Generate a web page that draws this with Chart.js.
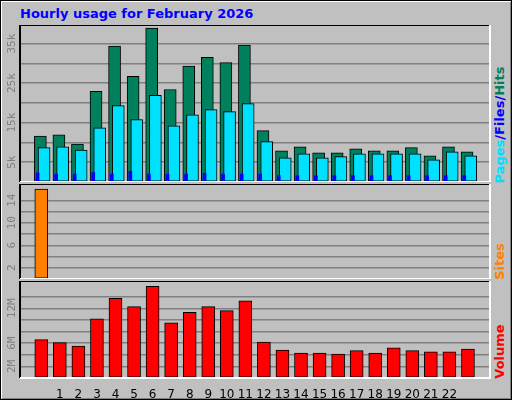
<!DOCTYPE html><html><head><meta charset="utf-8">
<script src="https://cdn.jsdelivr.net/npm/chart.js@4/dist/chart.umd.min.js"></script>
<style>
body{margin:0;width:512px;height:400px;background:#c0c0c0;position:relative;overflow:hidden;font-family:"DejaVu Sans",sans-serif}
#frame{position:absolute;left:0;top:0;width:510px;height:398px;border:1px solid #000;box-shadow:inset 1px 1px 0 #fff,inset -1px -1px 0 #808080}
canvas{position:absolute;left:0}
.t{position:absolute;font-weight:bold;font-size:13px}
.r{position:absolute;font-weight:bold;font-size:13px;transform:rotate(-90deg);transform-origin:center;white-space:nowrap}
</style></head><body><div id="frame"></div>
<div class="t" style="left:20px;top:6px;color:#0000ff">Hourly usage for February 2026</div>
<div class="r" style="left:447px;top:124px;width:104px;text-align:center"><span style="color:#00e0ff">Pages</span><span style="color:#0000ff">/Files/</span><span style="color:#00805c">Hits</span></div>
<div class="r" style="left:474px;top:254px;width:50px;text-align:center;color:#ff8000">Sites</div>
<div class="r" style="left:469px;top:344px;width:60px;text-align:center;color:#ff0000">Volume</div>
<div style="position:absolute;left:0;top:25px;width:512px;height:157px"><canvas id="c1"></canvas></div>
<div style="position:absolute;left:0;top:184px;width:512px;height:95px"><canvas id="c2"></canvas></div>
<div style="position:absolute;left:0;top:281px;width:512px;height:117px"><canvas id="c3"></canvas></div>
<script>
const hours=[0,1,2,3,4,5,6,7,8,9,10,11,12,13,14,15,16,17,18,19,20,21,22,23];
const hits=[11.6,11.9,9.6,22.9,34.4,26.7,38.9,23.4,29.3,31.5,30.2,34.6,13.0,7.9,8.9,7.4,7.4,8.4,7.9,7.9,8.7,6.6,8.9,7.6];
const files=[8.7,8.9,8.1,13.7,19.3,15.8,21.9,14.2,17.0,18.3,17.8,19.8,10.2,6.1,7.1,6.1,6.4,7.1,7.1,7.1,7.1,5.6,7.6,6.6];
const pages=[2.3,2.0,2.0,2.4,2.0,2.7,2.0,2.0,2.0,2.2,2.0,2.0,2.0,1.6,1.6,1.6,1.6,1.6,1.6,1.6,1.6,1.6,1.6,1.6];
const sites=[16,0,0,0,0,0,0,0,0,0,0,0,0,0,0,0,0,0,0,0,0,0,0,0];
const volume=[6.6,6.1,5.5,10.2,13.7,12.3,15.8,9.5,11.3,12.3,11.6,13.3,6.2,4.8,4.3,4.3,4.1,4.7,4.3,5.2,4.7,4.5,4.5,5.0];
const pts=(arr,off)=>arr.map((v,i)=>({x:hours[i]+off,y:v}));
const frame={id:'frame',afterDraw(c){const a=c.chartArea,g=c.ctx;g.save();g.lineWidth=2;g.strokeStyle='#000';g.beginPath();g.moveTo(a.left,a.bottom);g.lineTo(a.left,a.top);g.lineTo(a.right,a.top);g.stroke();g.strokeStyle='#fff';g.beginPath();g.moveTo(a.right,a.top);g.lineTo(a.right,a.bottom);g.lineTo(a.left,a.bottom);g.stroke();
const o=c.options.plugins.ylab;if(o){g.fillStyle='#808080';g.font='11px "DejaVu Sans Mono"';g.textAlign='center';g.textBaseline='middle';o.vals.forEach((v,i)=>{const y=c.scales.y.getPixelForValue(v);g.save();g.translate(12,y);g.rotate(-Math.PI/2);g.fillText(o.labels[i],0,0);g.restore();});}
g.restore();}};
function mk(id,datasets,ymax,step,ylab,showX){
 const xs={type:'linear',min:-0.62,max:23.66,display:showX,grid:{display:false},border:{display:false},
    ticks:{stepSize:1,autoSkip:false,maxRotation:0,minRotation:0,color:'#000',font:{family:'DejaVu Sans',size:12},padding:2,callback:v=>Number.isInteger(v)?v:''}};
 if(showX) xs.afterFit=s=>{s.height=20};
 new Chart(document.getElementById(id),{type:'bar',data:{datasets},plugins:[frame],
 options:{responsive:true,maintainAspectRatio:false,animation:false,
  layout:{padding:{left:20,right:22,top:0,bottom:0}},
  plugins:{legend:{display:false},tooltip:{enabled:false},ylab},
  datasets:{bar:{grouped:false,borderColor:'#000',borderWidth:1,borderSkipped:false}},
  scales:{x:xs,
   y:{min:0,max:ymax,afterFit:s=>{s.width=0},ticks:{display:false,stepSize:step},border:{display:false},grid:{color:'#808080',lineWidth:1.5,drawTicks:false}}}}});
}
mk('c1',[
 {data:pts(hits,-0.05),backgroundColor:'#00805c',barThickness:12,order:3},
 {data:pts(files,0.15),backgroundColor:'#00e0ff',barThickness:12,order:2},
 {data:pts(pages,-0.2),backgroundColor:'#0000ff',barThickness:3,borderWidth:0,order:1}],39.7,5,{vals:[5,15,25,35],labels:['5k','15k','25k','35k']},false);
mk('c2',[{data:pts(sites,0),backgroundColor:'#ff8000',barThickness:13}],16.9,2,{vals:[2,6,10,14],labels:['2','6','10','14']},false);
mk('c3',[{data:pts(volume,0),backgroundColor:'#ff0000',barThickness:13}],16.7,2,{vals:[2,6,12],labels:['2M','6M','12M']},true);
</script></body></html>
